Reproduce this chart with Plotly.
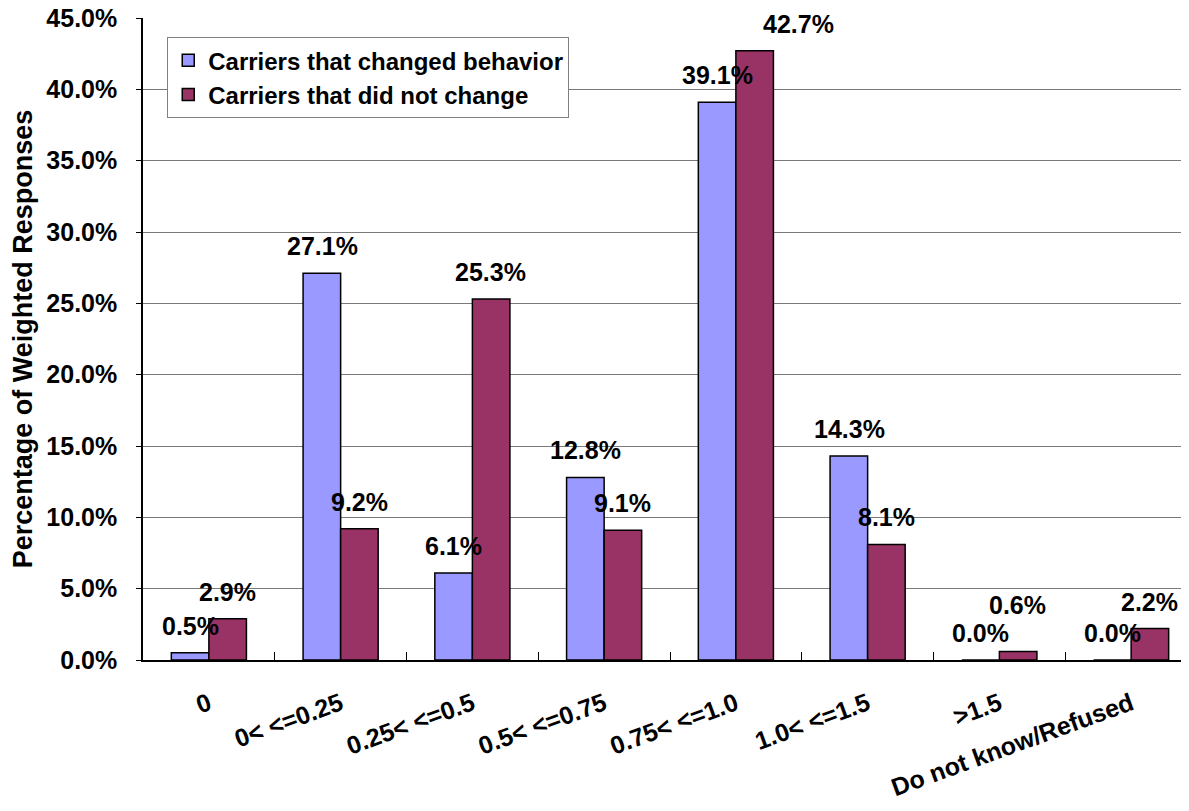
import plotly.graph_objects as go

categories = ["0", "0< <=0.25", "0.25< <=0.5", "0.5< <=0.75", "0.75< <=1.0",
              "1.0< <=1.5", ">1.5", "Do not know/Refused"]
changed = [0.5, 27.1, 6.1, 12.8, 39.1, 14.3, 0.0, 0.0]
not_changed = [2.9, 9.2, 25.3, 9.1, 42.7, 8.1, 0.6, 2.2]

FONT = "Liberation Sans, Arial, sans-serif"
FS = 25
BAR_OFF = 18.6   # px from category centre to each bar centre
# a couple of labels are nudged (px) the way the original chart placed them
nudge = {(1, "0.75< <=1.0"): (44, 0), (1, ">1.5"): (0, 19)}

fig = go.Figure()
series = [("Carriers that changed behavior", changed, "#9999FF"),
          ("Carriers that did not change", not_changed, "#993366")]
for i, (name, vals, col) in enumerate(series):
    fig.add_trace(go.Bar(x=categories, y=vals, name=name,
                         marker=dict(color=col, line=dict(color="black", width=1.5))))
    for c, v in zip(categories, vals):
        dx, dy = nudge.get((i, c), (0, 0))
        fig.add_annotation(x=c, y=v, text=f"{v:.1f}%", showarrow=False,
                           xanchor="center", yanchor="bottom",
                           xshift=(-BAR_OFF if i == 0 else BAR_OFF) + dx, yshift=11 + dy,
                           font=dict(size=FS, color="black", family=FONT, weight="bold"))

fig.update_layout(
    width=1189, height=811,
    margin=dict(l=135, r=0, t=10, b=159),
    paper_bgcolor="white", plot_bgcolor="white",
    font=dict(family=FONT, size=FS, color="black", weight="bold"),
    barmode="group", bargap=0.43, bargroupgap=0,
    legend=dict(x=0.023, y=0.97, xanchor="left", yanchor="top",
                bgcolor="white", bordercolor="#808080", borderwidth=1,
                itemwidth=30, tracegroupgap=0,
                font=dict(size=24, family=FONT, weight="bold")),
    showlegend=True,
)
fig.update_yaxes(range=[0, 45], dtick=5, tickformat=".1f", ticksuffix="%",
                 automargin=False, ticklabeloverflow="allow",
                 showgrid=True, gridcolor="#7a7a7a", gridwidth=1,
                 showline=True, linecolor="black", linewidth=1.5,
                 ticks="outside", ticklen=5, tickcolor="black",
                 ticklabelstandoff=14,
                 tickfont=dict(size=FS, weight="bold"),
                 title=dict(text="Percentage of Weighted Responses",
                            font=dict(size=27, weight="bold"), standoff=8))
fig.update_xaxes(tickangle=-20, showline=True, linecolor="black", linewidth=1.5,
                 automargin=False, ticklabeloverflow="allow",
                 ticks="inside", tickson="boundaries", ticklen=8, tickcolor="black",
                 ticklabelstandoff=18,
                 tickfont=dict(size=FS, weight="bold"))

fig.write_html("out.html")
